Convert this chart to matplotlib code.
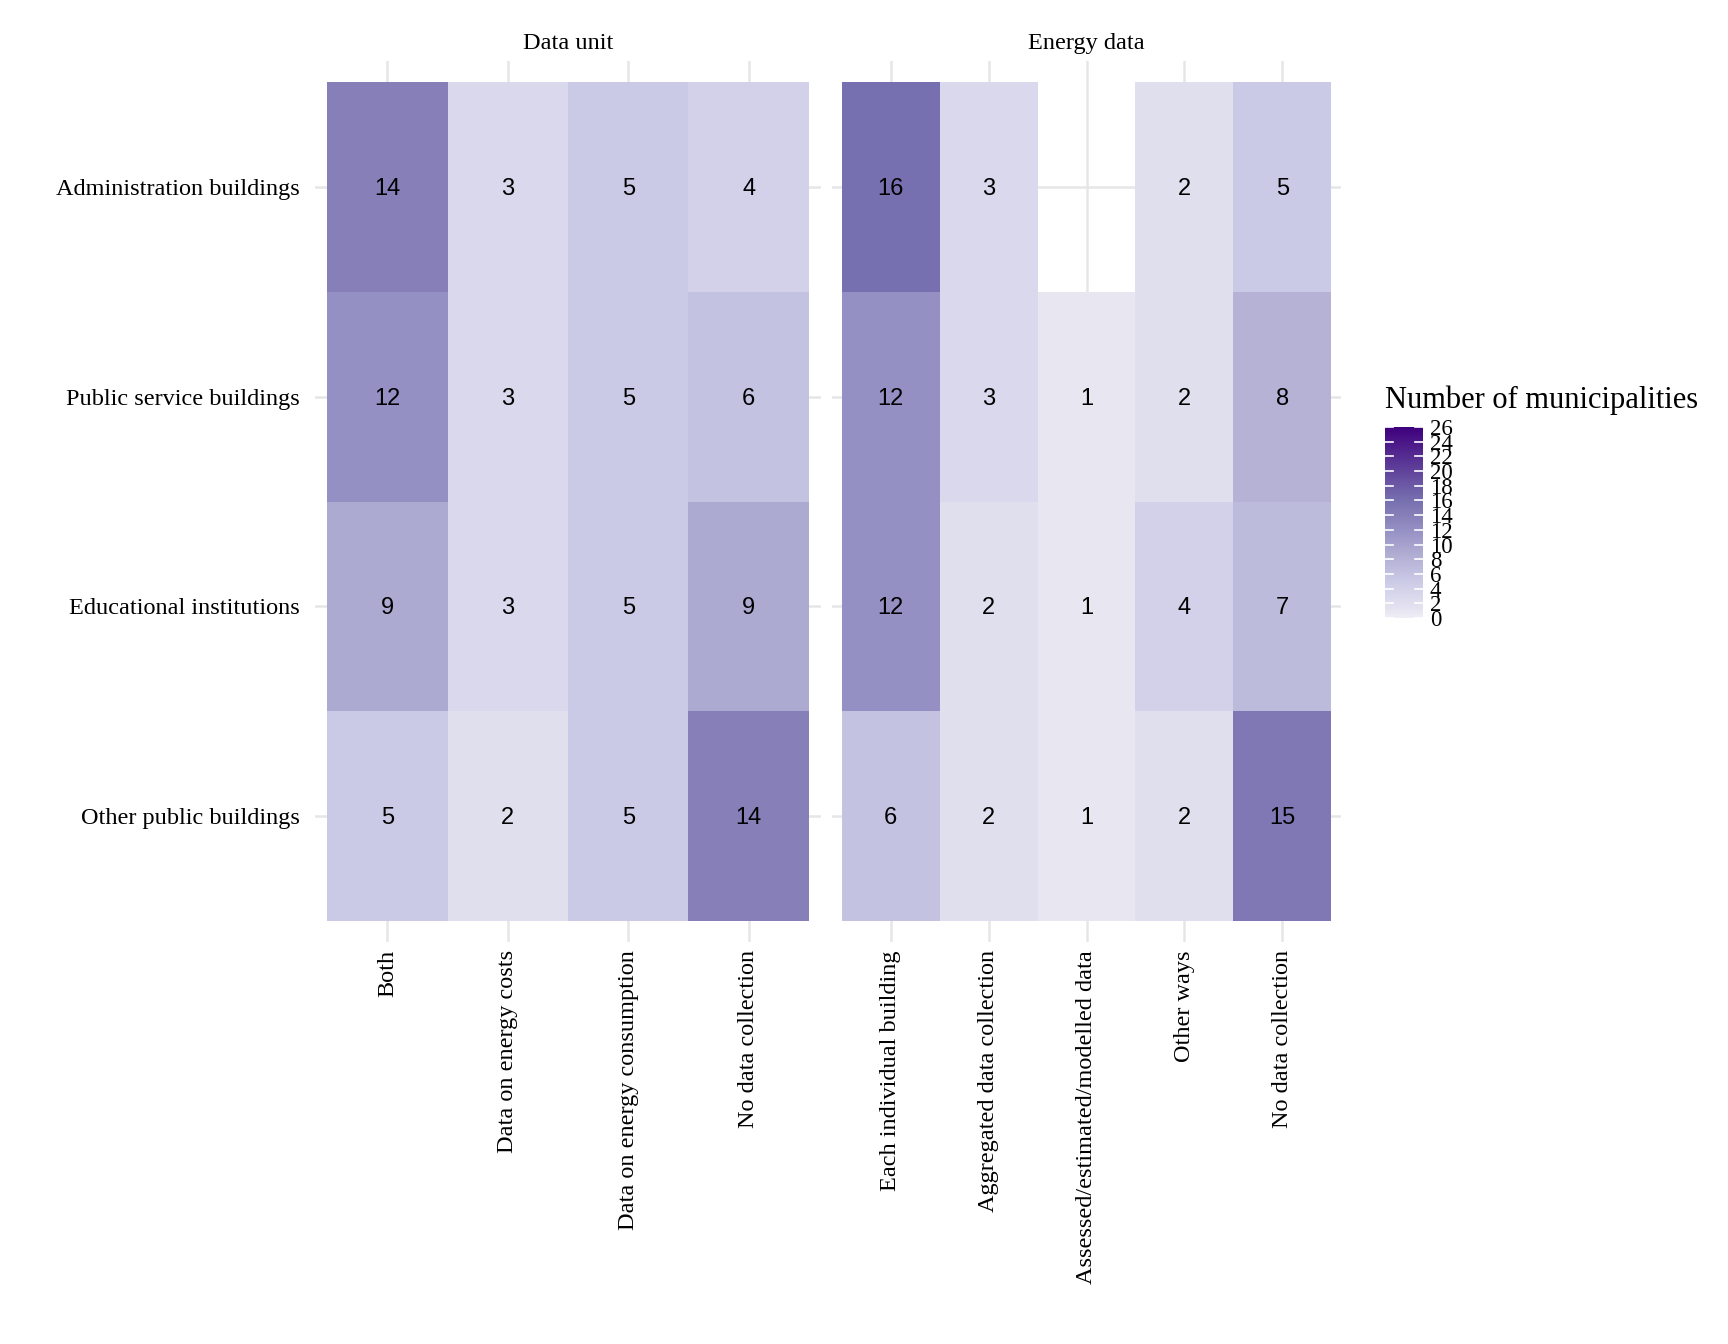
import numpy as np
import matplotlib
matplotlib.use("Agg")
import matplotlib.pyplot as plt
from matplotlib.colors import LinearSegmentedColormap, Normalize

# data
rows = ["Administration buildings", "Public service buildings",
        "Educational institutions", "Other public buildings"]

unit_cols = ["Both", "Data on energy costs", "Data on energy consumption",
             "No data collection"]
unit_vals = [[14, 3, 5, 4],
             [12, 3, 5, 6],
             [9, 3, 5, 9],
             [5, 2, 5, 14]]

energy_cols = ["Each individual building", "Aggregated data collection",
               "Assessed/estimated/modelled data", "Other ways",
               "No data collection"]
energy_vals = [[16, 3, np.nan, 2, 5],
               [12, 3, 1, 2, 8],
               [12, 2, 1, 4, 7],
               [6, 2, 1, 2, 15]]

facet_titles = ["Data unit", "Energy data"]
legend_title = "Number of municipalities"
vmin, vmax = 0, 26

# kleur: gradient licht -> donker paars
anchors = [0, 1, 5, 9, 12, 14, 16, 26]
anchor_cols = ["#efedf6", "#e7e5f1", "#cbcae6", "#adaad1", "#9590c4",
               "#877fb8", "#7770b0", "#3f007d"]
cmap = LinearSegmentedColormap.from_list(
    "paars", list(zip([(a - vmin) / (vmax - vmin) for a in anchors], anchor_cols)))
norm = Normalize(vmin=vmin, vmax=vmax)

serif = "Liberation Serif"
sans = "Liberation Sans"

fig = plt.figure(figsize=(17.28, 13.44), dpi=100)

panels = [(unit_cols, unit_vals, [315 / 1728, 0.2991, 506 / 1728, 0.6555]),
          (energy_cols, energy_vals, [832 / 1728, 0.2991, 509 / 1728, 0.6555])]

mesh = None
for i, (cols, vals, rect) in enumerate(panels):
    ax = fig.add_axes(rect)
    arr = np.ma.masked_invalid(np.array(vals, dtype=float))
    nx, ny = len(cols), len(rows)
    mesh = ax.pcolormesh(np.arange(nx + 1) - 0.5, np.arange(ny + 1) - 0.5, arr,
                         cmap=cmap, norm=norm, zorder=1)
    # angka di tiap sel
    for r in range(ny):
        for c in range(nx):
            if not np.ma.is_masked(arr[r, c]):
                ax.text(c, r + 0.01, f"{int(arr[r, c])}", ha="center", va="center",
                        fontsize=17, family=sans, color="black", zorder=3)
    ax.set_xlim(-0.6, nx - 0.4)
    ax.set_ylim(ny - 0.4, -0.6)
    ax.set_axisbelow(True)
    ax.grid(True, color="#e6e6e6", linewidth=1.8)
    for s in ax.spines.values():
        s.set_visible(False)
    ax.set_xticks(range(nx))
    ax.set_xticklabels(cols, rotation=90, va="top", ha="center",
                       family=serif, fontsize=17.5)
    ax.set_yticks(range(ny))
    if i == 0:
        ax.set_yticklabels(rows, family=serif, fontsize=17.5)
    else:
        ax.set_yticklabels([])
    ax.tick_params(length=0, pad=11)
    ax.tick_params(axis="x", pad=6)
    ax.set_title(facet_titles[i], family=serif, fontsize=17.5, pad=9)

# legenda
cax = fig.add_axes([1385 / 1728, 1 - 618 / 1344, 38 / 1728, 191 / 1344])
cb = fig.colorbar(mesh, cax=cax, ticks=range(vmin, vmax + 1, 2))
cb.outline.set_visible(False)
cax.tick_params(length=0, pad=5)
for lab in cax.get_yticklabels():
    lab.set_family(serif)
    lab.set_fontsize(16.5)
for t in range(vmin, vmax + 1, 2):
    cax.plot([0, 0.2], [t, t], color="white", lw=1.2, transform=cax.get_yaxis_transform())
    cax.plot([0.8, 1], [t, t], color="white", lw=1.2, transform=cax.get_yaxis_transform())
fig.text(1385 / 1728, 1 - 408 / 1344, legend_title, family=serif, fontsize=22,
         ha="left", va="baseline")

fig.savefig("out.png", dpi=100, facecolor="white")
